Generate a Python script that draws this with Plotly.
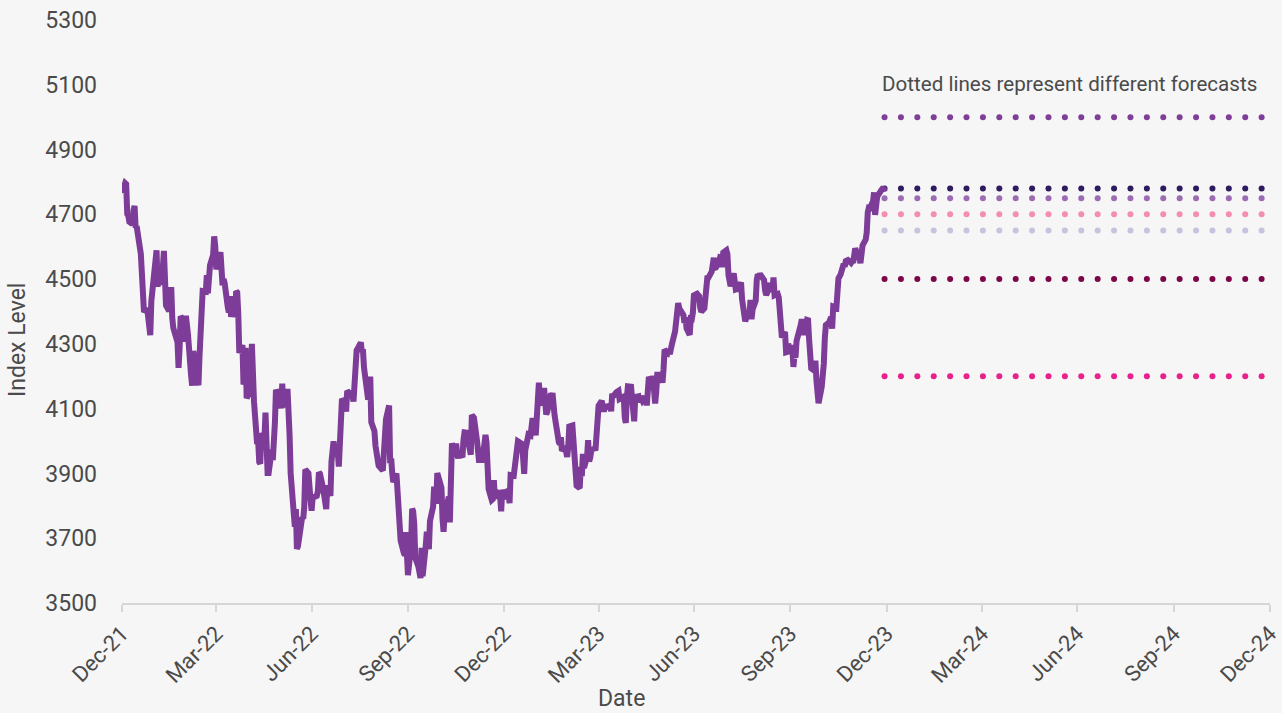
import plotly.graph_objects as go
import pandas as pd

# ---------------- DATA ----------------
days_2021 = ["12-31"]
close_2021 = [4766]

days_2022 = [
    "01-03","01-04","01-05","01-06","01-07","01-10","01-11","01-12","01-13","01-14","01-18","01-19","01-20","01-21","01-24","01-25","01-26","01-27","01-28","01-31",
    "02-01","02-02","02-03","02-04","02-07","02-08","02-09","02-10","02-11","02-14","02-15","02-16","02-17","02-18","02-22","02-23","02-24","02-25","02-28",
    "03-01","03-02","03-03","03-04","03-07","03-08","03-09","03-10","03-11","03-14","03-15","03-16","03-17","03-18","03-21","03-22","03-23","03-24","03-25","03-28","03-29","03-30","03-31",
    "04-01","04-04","04-05","04-06","04-07","04-08","04-11","04-12","04-13","04-14","04-18","04-19","04-20","04-21","04-22","04-25","04-26","04-27","04-28","04-29",
    "05-02","05-03","05-04","05-05","05-06","05-09","05-10","05-11","05-12","05-13","05-16","05-17","05-18","05-19","05-20","05-23","05-24","05-25","05-26","05-27","05-31",
    "06-01","06-02","06-03","06-06","06-07","06-08","06-09","06-10","06-13","06-14","06-15","06-16","06-17","06-21","06-22","06-23","06-24","06-27","06-28","06-29","06-30",
    "07-01","07-05","07-06","07-07","07-08","07-11","07-12","07-13","07-14","07-15","07-18","07-19","07-20","07-21","07-22","07-25","07-26","07-27","07-28","07-29",
    "08-01","08-02","08-03","08-04","08-05","08-08","08-09","08-10","08-11","08-12","08-15","08-16","08-17","08-18","08-19","08-22","08-23","08-24","08-25","08-26","08-29","08-30","08-31",
    "09-01","09-02","09-06","09-07","09-08","09-09","09-12","09-13","09-14","09-15","09-16","09-19","09-20","09-21","09-22","09-23","09-26","09-27","09-28","09-29","09-30",
    "10-03","10-04","10-05","10-06","10-07","10-10","10-11","10-12","10-13","10-14","10-17","10-18","10-19","10-20","10-21","10-24","10-25","10-26","10-27","10-28","10-31",
    "11-01","11-02","11-03","11-04","11-07","11-08","11-09","11-10","11-11","11-14","11-15","11-16","11-17","11-18","11-21","11-22","11-23","11-25","11-28","11-29","11-30",
    "12-01","12-02","12-05","12-06","12-07","12-08","12-09","12-12","12-13","12-14","12-15","12-16","12-19","12-20","12-21","12-22","12-23","12-27","12-28","12-29","12-30",
]
close_2022 = [
    4796,4793,4701,4696,4677,4670,4713,4726,4659,4663,4577,4533,4483,4398,4410,4357,4350,4327,4432,4516,
    4546,4589,4477,4501,4484,4522,4587,4504,4419,4401,4472,4475,4380,4349,4305,4226,4288,4385,4374,
    4306,4387,4363,4329,4201,4171,4278,4260,4204,4173,4262,4358,4412,4463,4461,4512,4456,4520,4543,4575,4632,4602,4530,
    4546,4583,4525,4481,4500,4488,4413,4397,4447,4392,4391,4463,4459,4394,4272,4296,4175,4184,4288,4132,
    4155,4175,4300,4147,4123,3991,4001,3935,3930,4024,4008,4088,3924,3901,3901,3974,3941,3979,4058,4158,4132,
    4101,4177,4109,4121,4161,4116,4018,3901,3750,3735,3790,3667,3675,3765,3760,3796,3912,3901,3821,3819,3785,
    3825,3831,3845,3903,3899,3854,3819,3802,3790,3863,3831,3937,3960,3999,3962,3967,3921,4024,4073,4130,
    4119,4091,4155,4152,4145,4140,4122,4210,4207,4280,4297,4305,4275,4284,4228,4138,4128,4141,4199,4058,4031,3986,3955,
    3967,3924,3909,3980,4006,4067,4110,3932,3946,3901,3873,3900,3856,3790,3758,3693,3655,3647,3719,3640,3586,
    3678,3791,3783,3745,3640,3612,3589,3577,3670,3583,3677,3720,3695,3666,3753,3797,3859,3831,3807,3901,3872,
    3856,3760,3720,3771,3807,3828,3749,3956,3993,3957,3992,3959,3947,3965,3950,4003,4027,4026,3964,3958,4080,
    4076,4072,3999,3941,3933,3963,3934,3990,4019,3996,3895,3852,3818,3821,3879,3822,3845,3829,3783,3849,3840,
]

days_2023 = [
    "01-03","01-04","01-05","01-06","01-09","01-10","01-11","01-12","01-13","01-17","01-18","01-19","01-20","01-23","01-24","01-25","01-26","01-27","01-30","01-31",
    "02-01","02-02","02-03","02-06","02-07","02-08","02-09","02-10","02-13","02-14","02-15","02-16","02-17","02-21","02-22","02-23","02-24","02-27","02-28",
    "03-01","03-02","03-03","03-06","03-07","03-08","03-09","03-10","03-13","03-14","03-15","03-16","03-17","03-20","03-21","03-22","03-23","03-24","03-27","03-28","03-29","03-30","03-31",
    "04-03","04-04","04-05","04-06","04-10","04-11","04-12","04-13","04-14","04-17","04-18","04-19","04-20","04-21","04-24","04-25","04-26","04-27","04-28",
    "05-01","05-02","05-03","05-04","05-05","05-08","05-09","05-10","05-11","05-12","05-15","05-16","05-17","05-18","05-19","05-22","05-23","05-24","05-25","05-26","05-30","05-31",
    "06-01","06-02","06-05","06-06","06-07","06-08","06-09","06-12","06-13","06-14","06-15","06-16","06-20","06-21","06-22","06-23","06-26","06-27","06-28","06-29","06-30",
    "07-03","07-05","07-06","07-07","07-10","07-11","07-12","07-13","07-14","07-17","07-18","07-19","07-20","07-21","07-24","07-25","07-26","07-27","07-28","07-31",
    "08-01","08-02","08-03","08-04","08-07","08-08","08-09","08-10","08-11","08-14","08-15","08-16","08-17","08-18","08-21","08-22","08-23","08-24","08-25","08-28","08-29","08-30","08-31",
    "09-01","09-05","09-06","09-07","09-08","09-11","09-12","09-13","09-14","09-15","09-18","09-19","09-20","09-21","09-22","09-25","09-26","09-27","09-28","09-29",
    "10-02","10-03","10-04","10-05","10-06","10-09","10-10","10-11","10-12","10-13","10-16","10-17","10-18","10-19","10-20","10-23","10-24","10-25","10-26","10-27","10-30","10-31",
    "11-01","11-02","11-03","11-06","11-07","11-08","11-09","11-10","11-13","11-14","11-15","11-16","11-17","11-20","11-21","11-22","11-24","11-27","11-28","11-29","11-30",
    "12-01","12-04","12-05","12-06","12-07","12-08","12-11","12-12","12-13","12-14","12-15","12-18","12-19","12-20","12-21","12-22","12-26","12-27","12-28","12-29",
]
close_2023 = [
    3824,3853,3808,3895,3893,3919,3970,3983,3999,3991,3929,3899,3972,4019,4017,4016,4060,4071,4018,4077,
    4119,4180,4136,4111,4164,4118,4082,4090,4137,4136,4148,4090,4079,3997,3991,4012,3970,3982,3970,
    3951,3981,4045,4048,3986,3992,3918,3862,3855,3920,3892,3960,3917,3951,4003,3937,3949,3971,3977,3971,4028,4051,4109,
    4124,4100,4091,4105,4110,4109,4092,4146,4138,4151,4155,4155,4130,4133,4137,4072,4056,4136,4169,
    4168,4120,4091,4061,4136,4138,4119,4138,4131,4124,4136,4110,4159,4198,4192,4193,4146,4116,4151,4205,4206,4180,
    4221,4282,4273,4283,4268,4294,4299,4338,4369,4373,4426,4410,4389,4365,4382,4348,4328,4378,4377,4396,4450,
    4455,4447,4412,4399,4410,4439,4472,4510,4505,4523,4555,4566,4535,4536,4554,4567,4566,4537,4582,4589,
    4577,4513,4502,4478,4518,4499,4468,4469,4464,4490,4437,4404,4370,4370,4400,4388,4436,4376,4406,4433,4497,4515,4508,
    4516,4497,4465,4451,4458,4487,4462,4467,4505,4450,4454,4444,4402,4330,4320,4337,4274,4275,4300,4288,
    4288,4229,4263,4258,4309,4336,4358,4376,4349,4328,4374,4373,4314,4278,4224,4217,4248,4186,4137,4117,4167,4194,
    4238,4318,4358,4366,4378,4383,4347,4415,4411,4496,4502,4508,4514,4547,4538,4556,4559,4550,4555,4550,4568,
    4595,4569,4567,4549,4585,4604,4622,4644,4707,4720,4719,4740,4768,4698,4746,4755,4775,4781,4783,4770,
]

forecast_levels = [5000, 4780, 4750, 4700, 4650, 4500, 4200]
forecast_colors = ["#7f3f98", "#2e1a5e", "#9b6bb4", "#f48db3", "#c7c3de", "#7b0648", "#e8228a"]
forecast_start = "2023-12-29"
forecast_end = "2024-12-23"
forecast_dots = 24

tick_dates = ["2021-12-31", "2022-03-31", "2022-06-30", "2022-09-30", "2022-12-31",
              "2023-03-31", "2023-06-30", "2023-09-30", "2023-12-31",
              "2024-03-31", "2024-06-30", "2024-09-30", "2024-12-31"]
tick_labels = ["Dec-21", "Mar-22", "Jun-22", "Sep-22", "Dec-22", "Mar-23", "Jun-23",
               "Sep-23", "Dec-23", "Mar-24", "Jun-24", "Sep-24", "Dec-24"]
y_ticks = [3500, 3700, 3900, 4100, 4300, 4500, 4700, 4900, 5100, 5300]

# ---------------- BUILD ----------------
dates = (["2021-" + d for d in days_2021] + ["2022-" + d for d in days_2022]
         + ["2023-" + d for d in days_2023])
closes = close_2021 + close_2022 + close_2023

FONT = "Roboto, 'Open Sans', sans-serif"
TXT = "#4a4a4a"
BG = "#f6f6f6"

fig = go.Figure()

fdates = pd.date_range(forecast_start, forecast_end, periods=forecast_dots)
for lvl, col in zip(forecast_levels, forecast_colors):
    fig.add_trace(go.Scatter(
        x=fdates, y=[lvl] * len(fdates), mode="markers",
        marker=dict(size=6, color=col, line=dict(width=0)),
        showlegend=False, hoverinfo="y"))

fig.add_trace(go.Scatter(
    x=pd.to_datetime(dates), y=closes, mode="lines",
    line=dict(color="#7d3c98", width=6),
    showlegend=False))

fig.update_layout(
    width=1282, height=713,
    paper_bgcolor=BG, plot_bgcolor=BG,
    margin=dict(l=122, r=12, t=20, b=110),
    font=dict(family=FONT, color=TXT),
    xaxis=dict(
        type="date", range=["2021-12-31", "2024-12-31"],
        tickvals=tick_dates, ticktext=tick_labels, tickangle=-45,
        tickfont=dict(size=22, color=TXT), automargin=False,
        ticks="outside", ticklen=7, tickwidth=2, tickcolor="#d6d6d6",
        showline=True, linecolor="#d6d6d6", linewidth=2,
        showgrid=False, zeroline=False),
    yaxis=dict(
        range=[3500, 5300], tickvals=y_ticks,
        tickfont=dict(size=23, color=TXT), automargin=False,
        ticklabelstandoff=24,
        showgrid=False, zeroline=False, showline=False, ticks=""),
    annotations=[
        dict(text="Dotted lines represent different forecasts", xref="paper", yref="paper",
             x=0.9904, y=0.890, xanchor="right", yanchor="middle", showarrow=False,
             font=dict(size=20.6, color=TXT, family=FONT)),
        dict(text="Index Level", xref="paper", yref="paper", textangle=-90,
             x=-0.0915, y=0.451, xanchor="center", yanchor="middle", showarrow=False,
             font=dict(size=23, color=TXT, family=FONT)),
        dict(text="Date", xref="paper", yref="paper",
             x=0.4351, y=-0.1646, xanchor="center", yanchor="middle", showarrow=False,
             font=dict(size=23, color=TXT, family=FONT)),
    ],
)

fig.write_html(
    "out.html",
    config={"displayModeBar": False},
    post_script="document.body.style.margin='0';document.body.style.overflow='hidden';"
                "document.body.style.background='" + BG + "';",
)
